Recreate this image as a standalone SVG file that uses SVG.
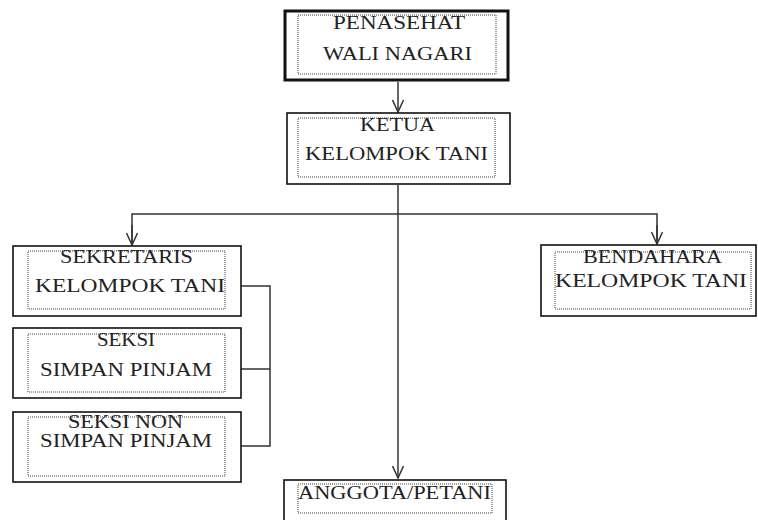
<svg xmlns="http://www.w3.org/2000/svg" width="758" height="520" viewBox="0 0 758 520">
<defs>
<style>
.box{fill:#fff;stroke:#111;stroke-width:1.6}
.thick{fill:#fff;stroke:#111;stroke-width:3}
.dot{fill:none;stroke:#444;stroke-width:1;stroke-dasharray:1 1}
.t{font-family:"Liberation Serif","Times New Roman",serif;font-size:19px;fill:#222}
.c{fill:none;stroke:#333;stroke-width:1.5}
</style>
<marker id="arr" markerWidth="16" markerHeight="12" refX="14" refY="6" orient="auto" markerUnits="userSpaceOnUse">
<polyline points="2,0.5 14,6 2,11.5" fill="none" stroke="#333" stroke-width="1.5"/>
</marker>
</defs>
<rect width="758" height="520" fill="#fff"/>
<g id="connectors">
<line class="c" x1="398" y1="82" x2="398" y2="112" marker-end="url(#arr)"/>
<line class="c" x1="398" y1="185" x2="398" y2="478" marker-end="url(#arr)"/>
<polyline class="c" points="132,245 132,214 657,214 657,244"/>
<line class="c" x1="132" y1="225" x2="132" y2="245" marker-end="url(#arr)"/>
<line class="c" x1="657" y1="225" x2="657" y2="244" marker-end="url(#arr)"/>
<polyline class="c" points="241,286 270,286 270,446 241,446"/>
<line class="c" x1="241" y1="369" x2="270" y2="369"/>
</g>
<g id="penasehat">
<rect class="thick" x="285" y="11" width="223" height="69"/>
<rect class="dot" x="298" y="15" width="198" height="59"/>
<text class="t" x="333" y="29" textLength="132" lengthAdjust="spacingAndGlyphs">PENASEHAT</text>
<text class="t" x="323" y="60" textLength="149" lengthAdjust="spacingAndGlyphs">WALI NAGARI</text>
</g>
<g id="ketua">
<rect class="box" x="287" y="113" width="223" height="71"/>
<rect class="dot" x="298" y="118" width="197" height="59"/>
<text class="t" x="360" y="131" textLength="75" lengthAdjust="spacingAndGlyphs">KETUA</text>
<text class="t" x="305" y="160" textLength="183" lengthAdjust="spacingAndGlyphs">KELOMPOK TANI</text>
</g>
<g id="sekretaris">
<rect class="box" x="13" y="246" width="228" height="70"/>
<rect class="dot" x="28" y="251" width="197" height="58"/>
<text class="t" x="60" y="263" textLength="133" lengthAdjust="spacingAndGlyphs">SEKRETARIS</text>
<text class="t" x="35" y="292" textLength="190" lengthAdjust="spacingAndGlyphs">KELOMPOK TANI</text>
</g>
<g id="seksi">
<rect class="box" x="13" y="328" width="228" height="70"/>
<rect class="dot" x="28" y="334" width="197" height="58"/>
<text class="t" x="97" y="346" textLength="58" lengthAdjust="spacingAndGlyphs">SEKSI</text>
<text class="t" x="40" y="376" textLength="172" lengthAdjust="spacingAndGlyphs">SIMPAN PINJAM</text>
</g>
<g id="seksi-non">
<rect class="box" x="13" y="412" width="228" height="70"/>
<rect class="dot" x="28" y="417" width="197" height="59"/>
<text class="t" x="68" y="428" textLength="115" lengthAdjust="spacingAndGlyphs">SEKSI NON</text>
<text class="t" x="40" y="447" textLength="172" lengthAdjust="spacingAndGlyphs">SIMPAN PINJAM</text>
</g>
<g id="bendahara">
<rect class="box" x="541" y="245" width="215" height="71"/>
<rect class="dot" x="555" y="252" width="196" height="57"/>
<text class="t" x="583" y="263" textLength="139" lengthAdjust="spacingAndGlyphs">BENDAHARA</text>
<text class="t" x="555" y="287" textLength="192" lengthAdjust="spacingAndGlyphs">KELOMPOK TANI</text>
</g>
<g id="anggota">
<rect class="box" x="284" y="480" width="222" height="50"/>
<rect class="dot" x="298" y="484" width="194" height="29"/>
<text class="t" x="298" y="499" textLength="193" lengthAdjust="spacingAndGlyphs">ANGGOTA/PETANI</text>
</g>
</svg>
